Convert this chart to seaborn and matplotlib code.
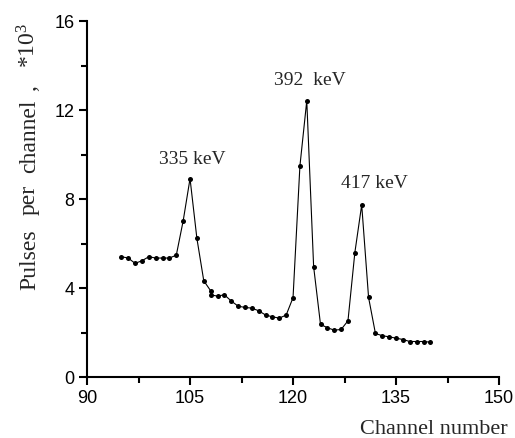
import matplotlib
matplotlib.use("Agg")
import matplotlib.pyplot as plt
from matplotlib.ticker import MultipleLocator
import seaborn as sns
import pandas as pd

# Spectrum data (channel, pulses per channel in thousands)
channels = [95, 96, 97, 98, 99, 100, 101, 102, 103, 104, 105, 106, 107, 108, 108.1,
            109, 110, 111, 112, 113, 114, 115, 116, 117, 118, 119, 120, 121, 122,
            123, 124, 125, 126, 127, 128, 129, 130, 131, 132, 133, 134, 135, 136,
            137, 138, 139, 140]
pulses = [5.41, 5.35, 5.11, 5.23, 5.41, 5.35, 5.35, 5.35, 5.48, 7.02, 8.92, 6.23, 4.33,
          3.88, 3.69, 3.64, 3.70, 3.42, 3.19, 3.13, 3.10, 2.98, 2.79, 2.71, 2.65, 2.79,
          3.57, 9.48, 12.42, 4.96, 2.37, 2.22, 2.11, 2.14, 2.53, 5.59, 7.74, 3.58, 1.96,
          1.86, 1.81, 1.75, 1.69, 1.60, 1.60, 1.60, 1.57]

peak_labels = ["335 keV", "392  keV", "417 keV"]
peak_x = [105.4, 122.4, 131.8]
peak_y = [9.8, 13.35, 8.7]

# y label is spread out word by word like in the original figure
ylabel_words = ["Pulses", "per", "channel", ",", "*10$^3$"]
ylabel_pos = [260, 200, 136, 88, 45]   # pixel rows of word centres

df = pd.DataFrame({"Channel": channels, "Pulses": pulses})

sns.set_style("ticks")
plt.rcParams["font.family"] = ["Liberation Sans", "DejaVu Sans"]
plt.rcParams["mathtext.default"] = "regular"
serif = ["Liberation Serif", "DejaVu Serif"]

fig = plt.figure(figsize=(5.15, 4.38), dpi=100)
ax = fig.add_axes([0.169, 0.139, 0.8, 0.813])

sns.lineplot(data=df, x="Channel", y="Pulses", estimator=None, sort=True,
             color="black", linewidth=0.8, marker="o", markersize=3.6,
             markeredgewidth=0, ax=ax)

for lab, x, y in zip(peak_labels, peak_x, peak_y):
    ax.text(x, y, lab, ha="center", va="center", fontsize=14, family=serif)

ax.set_xlim(90, 150)
ax.set_ylim(0, 16)
ax.xaxis.set_major_locator(MultipleLocator(15))
ax.xaxis.set_minor_locator(MultipleLocator(7.5))
ax.yaxis.set_major_locator(MultipleLocator(4))
ax.yaxis.set_minor_locator(MultipleLocator(2))
ax.tick_params(which="major", length=6, width=1.5, labelsize=13, pad=3, color="black",
               labelcolor="black")
ax.tick_params(which="minor", length=4, width=1.5, color="black")
for side in ["top", "right"]:
    ax.spines[side].set_visible(False)
for side in ["left", "bottom"]:
    ax.spines[side].set_linewidth(1.5)
    ax.spines[side].set_color("black")

ax.set_xlabel("")
ax.set_ylabel("")
fig.text(0.986, 0.009, "Channel number", ha="right", va="baseline", fontsize=16,
         family=serif)
for word, pos in zip(ylabel_words, ylabel_pos):
    fig.text(35 / 515, 1 - pos / 438, word, rotation=90, ha="center", va="baseline",
             fontsize=17, family=serif, rotation_mode="anchor")

fig.savefig("out.png", dpi=100)
